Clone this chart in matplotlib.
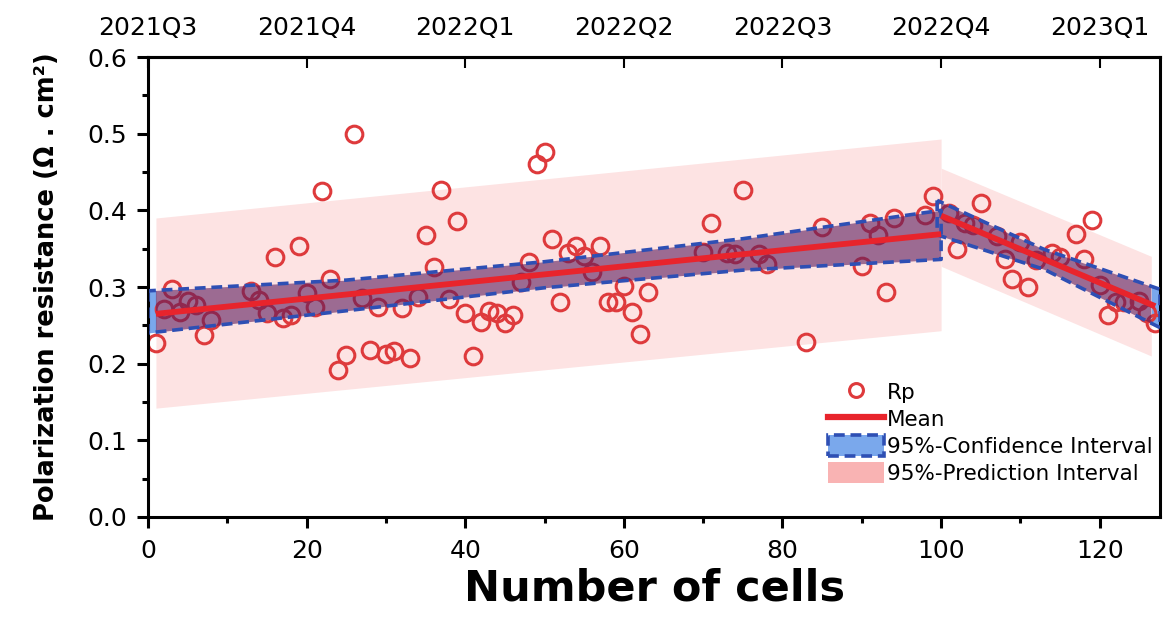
import numpy as np
import matplotlib
matplotlib.use("Agg")
import matplotlib.pyplot as plt
from matplotlib.lines import Line2D
from matplotlib.patches import Patch

# measured polarization resistance per cell
cells = [1, 2, 3, 4, 5, 6, 7, 8, 13, 14, 15, 16, 17, 18, 19, 20, 21, 22, 23, 24,
         25, 26, 27, 28, 29, 30, 31, 32, 33, 34, 35, 36, 37, 38, 39, 40, 41, 42, 43, 44,
         45, 46, 47, 48, 49, 50, 51, 52, 53, 54, 55, 56, 57, 58, 59, 60, 61, 62, 63, 70,
         71, 73, 74, 75, 77, 78, 83, 85, 90, 91, 92, 93, 94, 98, 99, 101, 102, 103, 104, 105,
         107, 108, 109, 110, 111, 112, 114, 115, 117, 118, 119, 120, 121, 122, 123, 125, 126, 127]
rp = [0.227, 0.271, 0.298, 0.268, 0.282, 0.276, 0.237, 0.257, 0.295, 0.283, 0.266, 0.339, 0.259, 0.263, 0.353, 0.292, 0.274, 0.425, 0.311, 0.192,
      0.211, 0.499, 0.286, 0.218, 0.274, 0.213, 0.217, 0.272, 0.207, 0.287, 0.368, 0.326, 0.426, 0.285, 0.386, 0.266, 0.210, 0.255, 0.269, 0.266,
      0.253, 0.263, 0.307, 0.332, 0.461, 0.476, 0.363, 0.280, 0.345, 0.353, 0.340, 0.320, 0.353, 0.280, 0.281, 0.301, 0.267, 0.239, 0.294, 0.346,
      0.384, 0.344, 0.343, 0.427, 0.343, 0.330, 0.228, 0.378, 0.327, 0.383, 0.368, 0.293, 0.390, 0.394, 0.419, 0.396, 0.350, 0.383, 0.381, 0.409,
      0.367, 0.337, 0.311, 0.359, 0.300, 0.335, 0.345, 0.339, 0.369, 0.337, 0.388, 0.303, 0.264, 0.281, 0.280, 0.282, 0.266, 0.253]

# fitted mean and 95% bands, first period (cells 1-100)
mean1_x = [1, 100]
mean1_y = [0.265, 0.369]
ci1_x = [0, 25, 50, 75, 100]
ci1_hi = [0.295, 0.309, 0.333, 0.363, 0.400]
ci1_lo = [0.240, 0.269, 0.299, 0.322, 0.336]
pi1_x = [1, 100]
pi1_hi = [0.390, 0.493]
pi1_lo = [0.142, 0.243]

# second period (cells 100-127)
mean2_x = [100, 127]
mean2_y = [0.393, 0.275]
ci2_x = [99.5, 113, 127.6]
ci2_hi = [0.413, 0.349, 0.297]
ci2_lo = [0.368, 0.323, 0.247]
pi2_x = [100, 126.5]
pi2_hi = [0.455, 0.340]
pi2_lo = [0.327, 0.210]

quarter_ticks = [0, 20, 40, 60, 80, 100, 120]
quarter_labels = ["2021Q3", "2021Q4", "2022Q1", "2022Q2", "2022Q3", "2022Q4", "2023Q1"]

RED = "#de3a3c"
LINE_RED = "#e8242c"
CI_BLUE = "#7aa8ec"
CI_EDGE = "#2e4fb4"
PI_PINK = "#fde3e3"
PI_LEGEND = "#f9b3b3"
OVERLAY = "#5c1c5c"

plt.rcParams["font.family"] = ["DejaVu Sans"]

fig = plt.figure(figsize=(11.66, 6.23), dpi=100)
ax = fig.add_axes([148 / 1166, 1 - 517 / 623, (1160 - 148) / 1166, (517 - 57) / 623])

for (cx, clo, chi, px, plo, phi, mx, my) in [
        (ci1_x, ci1_lo, ci1_hi, pi1_x, pi1_lo, pi1_hi, mean1_x, mean1_y),
        (ci2_x, ci2_lo, ci2_hi, pi2_x, pi2_lo, pi2_hi, mean2_x, mean2_y)]:
    ax.fill_between(cx, clo, chi, color=CI_BLUE, lw=0, zorder=0.9)
    band = ax.fill_between(px, plo, phi, color=PI_PINK, lw=0, zorder=1)
    shade = ax.fill_between(cx, clo, chi, color=OVERLAY, alpha=0.6, lw=0, zorder=3)
    shade.set_clip_path(band.get_paths()[0], ax.transData)
    ax.fill_between(cx, clo, chi, facecolor="none", edgecolor=CI_EDGE, lw=2.6,
                    linestyle=(0, (3.0, 1.6)), zorder=4)
    ax.plot(mx, my, color=LINE_RED, lw=4.2, solid_capstyle="butt", zorder=5)

ax.plot(cells, rp, ls="none", marker="o", ms=12, mfc="none", mec=RED, mew=2.2, zorder=2)

ax.set_xlim(0, 127.6)
ax.set_ylim(0, 0.6)
ax.set_xticks(np.arange(0, 121, 20))
ax.set_xticks(np.arange(10, 121, 20), minor=True)
ax.set_yticks(np.arange(0, 0.61, 0.1))
ax.set_yticks(np.arange(0.05, 0.6, 0.1), minor=True)
ax.set_yticklabels([f"{v:.1f}" for v in np.arange(0, 0.61, 0.1)])
ax.tick_params(axis="both", which="major", direction="out", length=8, width=2.2,
               labelsize=18, pad=7)
ax.tick_params(axis="both", which="minor", direction="out", length=4.5, width=2.2)
ax.tick_params(axis="x", which="major", pad=8)
for sp in ax.spines.values():
    sp.set_linewidth(2.2)

ax.set_xlabel("Number of cells", fontsize=31, fontweight="bold", labelpad=3)
ax.set_ylabel("Polarization resistance (Ω . cm²)", fontsize=18.5, fontweight="bold",
              labelpad=20)

top = ax.twiny()
top.set_xlim(ax.get_xlim())
top.set_xticks(quarter_ticks)
top.set_xticklabels(quarter_labels)
top.tick_params(axis="x", direction="in", length=8, width=1.5, labelsize=18, pad=12)
top.spines["top"].set_linewidth(2.2)

handles = [
    Line2D([], [], ls="none", marker="o", ms=10, mfc="none", mec=RED, mew=2.2),
    Line2D([], [], color=LINE_RED, lw=4.5),
    Patch(facecolor=CI_BLUE, edgecolor=CI_EDGE, lw=2.6, linestyle=(0, (3.0, 1.6))),
    Patch(facecolor=PI_LEGEND, edgecolor="none"),
]
labels = ["Rp", "Mean", "95%-Confidence Interval", "95%-Prediction Interval"]
leg = ax.legend(handles, labels, loc="upper left", bbox_to_anchor=(0.672, 0.295),
                frameon=False, fontsize=15.5, borderaxespad=0, borderpad=0,
                handlelength=2.6, handleheight=1.1, handletextpad=0.15,
                labelspacing=0.25)
leg.set_zorder(6)

fig.savefig("out.png", dpi=100)
